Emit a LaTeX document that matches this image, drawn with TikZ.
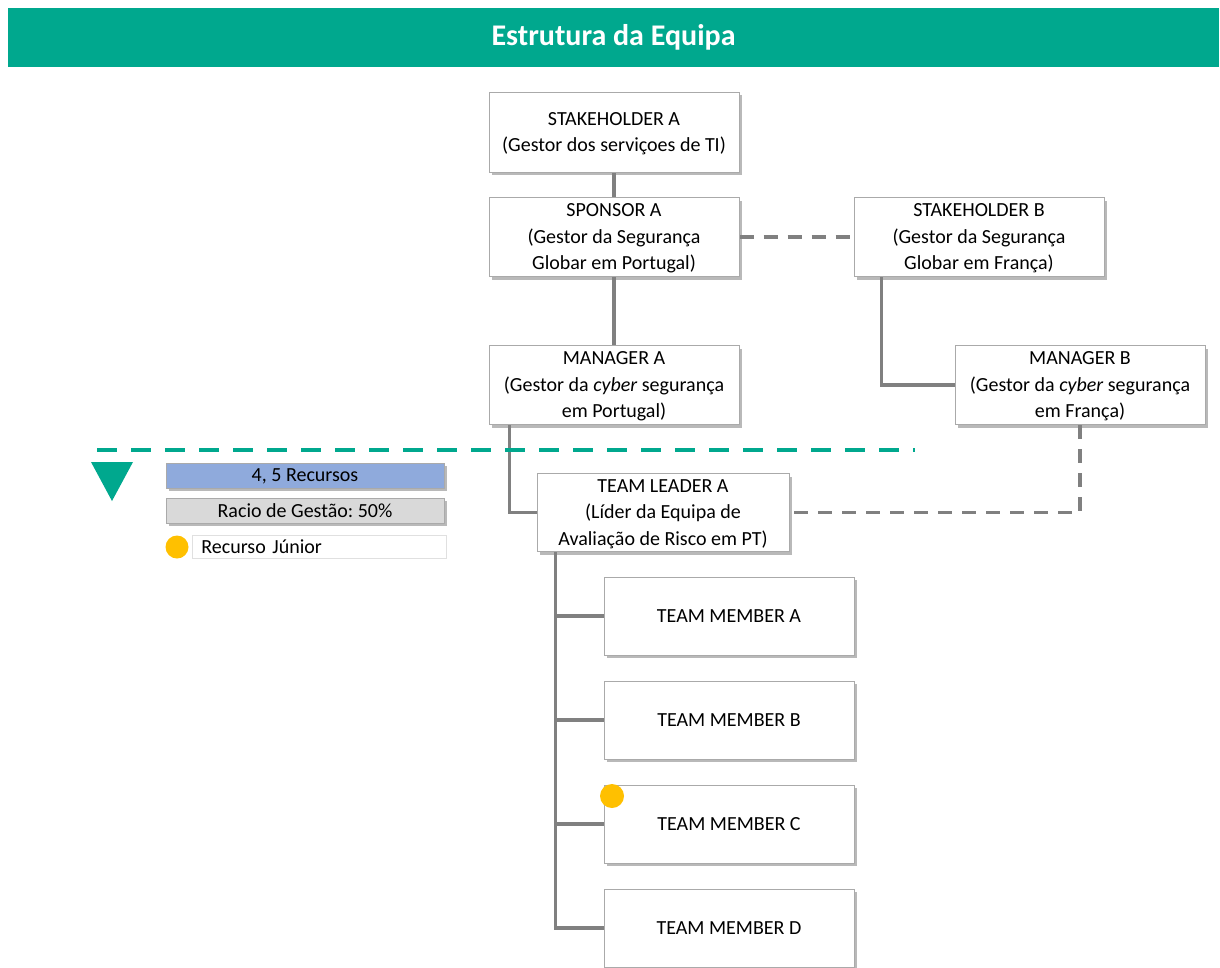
\documentclass[tikz,border=0pt]{standalone}
\usepackage{fontspec}
\setmainfont{Carlito}
\frenchspacing
\usetikzlibrary{shadows,calc,backgrounds}
\definecolor{teal}{RGB}{0,168,142}
\definecolor{linegray}{RGB}{128,128,128}
\definecolor{boxborder}{RGB}{170,170,170}
\definecolor{legblue}{RGB}{143,170,220}
\definecolor{leggray}{RGB}{217,217,217}
\definecolor{junior}{RGB}{255,192,0}
\tikzset{
  orgbox/.style={draw=boxborder, line width=1pt, fill=white, align=center,
    minimum width=250pt, minimum height=79pt, inner sep=2pt, text depth=0pt,
    font=\fontsize{20}{26.5}\selectfont,
    drop shadow={shadow xshift=3pt, shadow yshift=-3pt, fill=black!50, opacity=0.55}},
  legbox/.style={draw=boxborder, line width=0.8pt, minimum width=278pt, minimum height=25pt,
    inner sep=0pt, text depth=0pt, font=\fontsize{20}{22}\selectfont,
    drop shadow={shadow xshift=2.5pt, shadow yshift=-2.5pt, fill=black!50, opacity=0.55}},
  link/.style={draw=linegray, line width=3.6pt},
  dashlink/.style={draw=linegray, line width=3.6pt, dash pattern=on 14pt off 10pt},
}
\begin{document}
\begin{tikzpicture}[x=1pt,y=-1pt]
\useasboundingbox (0,0) rectangle (1220,967);
% title bar
\node[fill=teal, minimum width=1211pt, minimum height=59pt, inner sep=0pt,
  text=white, font=\fontsize{30}{34}\bfseries\selectfont] (title) at (613.5,37.5) {Estrutura da Equipa};

% organisation boxes
\node[orgbox, minimum height=80pt] (sa) at (614,132) {STAKEHOLDER A\\(Gestor dos serviçoes de TI)};
\node[orgbox] (spa) at (614,237) {SPONSOR A\\(Gestor da Segurança\\Globar em Portugal)};
\node[orgbox] (sb) at (979,237) {STAKEHOLDER B\\(Gestor da Segurança\\Globar em França)};
\node[orgbox] (ma) at (614,385) {MANAGER A\\(Gestor da \textit{cyber} segurança\\em Portugal)};
\node[orgbox] (mb) at (1080,385) {MANAGER B\\(Gestor da \textit{cyber} segurança\\em França)};
\node[orgbox, minimum width=252pt, minimum height=78pt] (tl) at (663,512.5) {TEAM LEADER A\\(Líder da Equipa de\\Avaliação de Risco em PT)};
\node[orgbox, minimum height=78pt] (tma) at (729,616) {TEAM MEMBER A};
\node[orgbox, minimum height=78pt] (tmb) at (729,720) {TEAM MEMBER B};
\node[orgbox, minimum height=78pt] (tmc) at (729,824) {TEAM MEMBER C};
\node[orgbox, minimum height=78pt] (tmd) at (729,928) {TEAM MEMBER D};
\node[circle, fill=junior, minimum size=24pt, inner sep=0pt] (jc) at (612,796) {};

% connectors
\begin{scope}[on background layer]
\draw[link] (sa.south) -- (spa.north);
\draw[link] (spa.south) -- (ma.north);
\draw[dashlink] (spa.east) -- (sb.west);
\draw[link] ($(sb.south west)+(28,0)$) |- (mb.west);
\draw[link] ($(ma.south west)+(21,0)$) |- (tl.west);
\draw[dashlink] (mb.south) |- (tl.east);
\coordinate (trunk) at ($(tl.south west)+(19,0)$);
\draw[link] (trunk) |- (tmd.west);
\draw[link] (trunk) |- (tma.west);
\draw[link] (trunk) |- (tmb.west);
\draw[link] (trunk) |- (tmc.west);
\end{scope}

% separator and legend
\coordinate (sepl) at (97,450);
\coordinate (sepr) at (915,450);
\draw[teal, line width=3.4pt, dash pattern=on 20pt off 14pt] (sepl) -- (sepr);
\fill[teal] (91,462) -- (133,462) -- (112,501) -- cycle;
\node[legbox, fill=legblue] (res) at (305,475.5) {4, 5 Recursos};
\node[legbox, fill=leggray] (racio) at (305,511) {Racio de Gestão: 50\%};
\node[circle, fill=junior, minimum size=23pt, inner sep=0pt] (jl) at (177,547) {};
\node[draw=black!12, line width=0.8pt, minimum width=254pt, minimum height=23pt, inner ysep=0pt,
  inner xsep=9pt, text depth=0pt, anchor=west, text width=236pt, align=left,
  font=\fontsize{20}{22}\selectfont] (jun) at (192,546.5) {Recurso Júnior};
\end{tikzpicture}
\end{document}
